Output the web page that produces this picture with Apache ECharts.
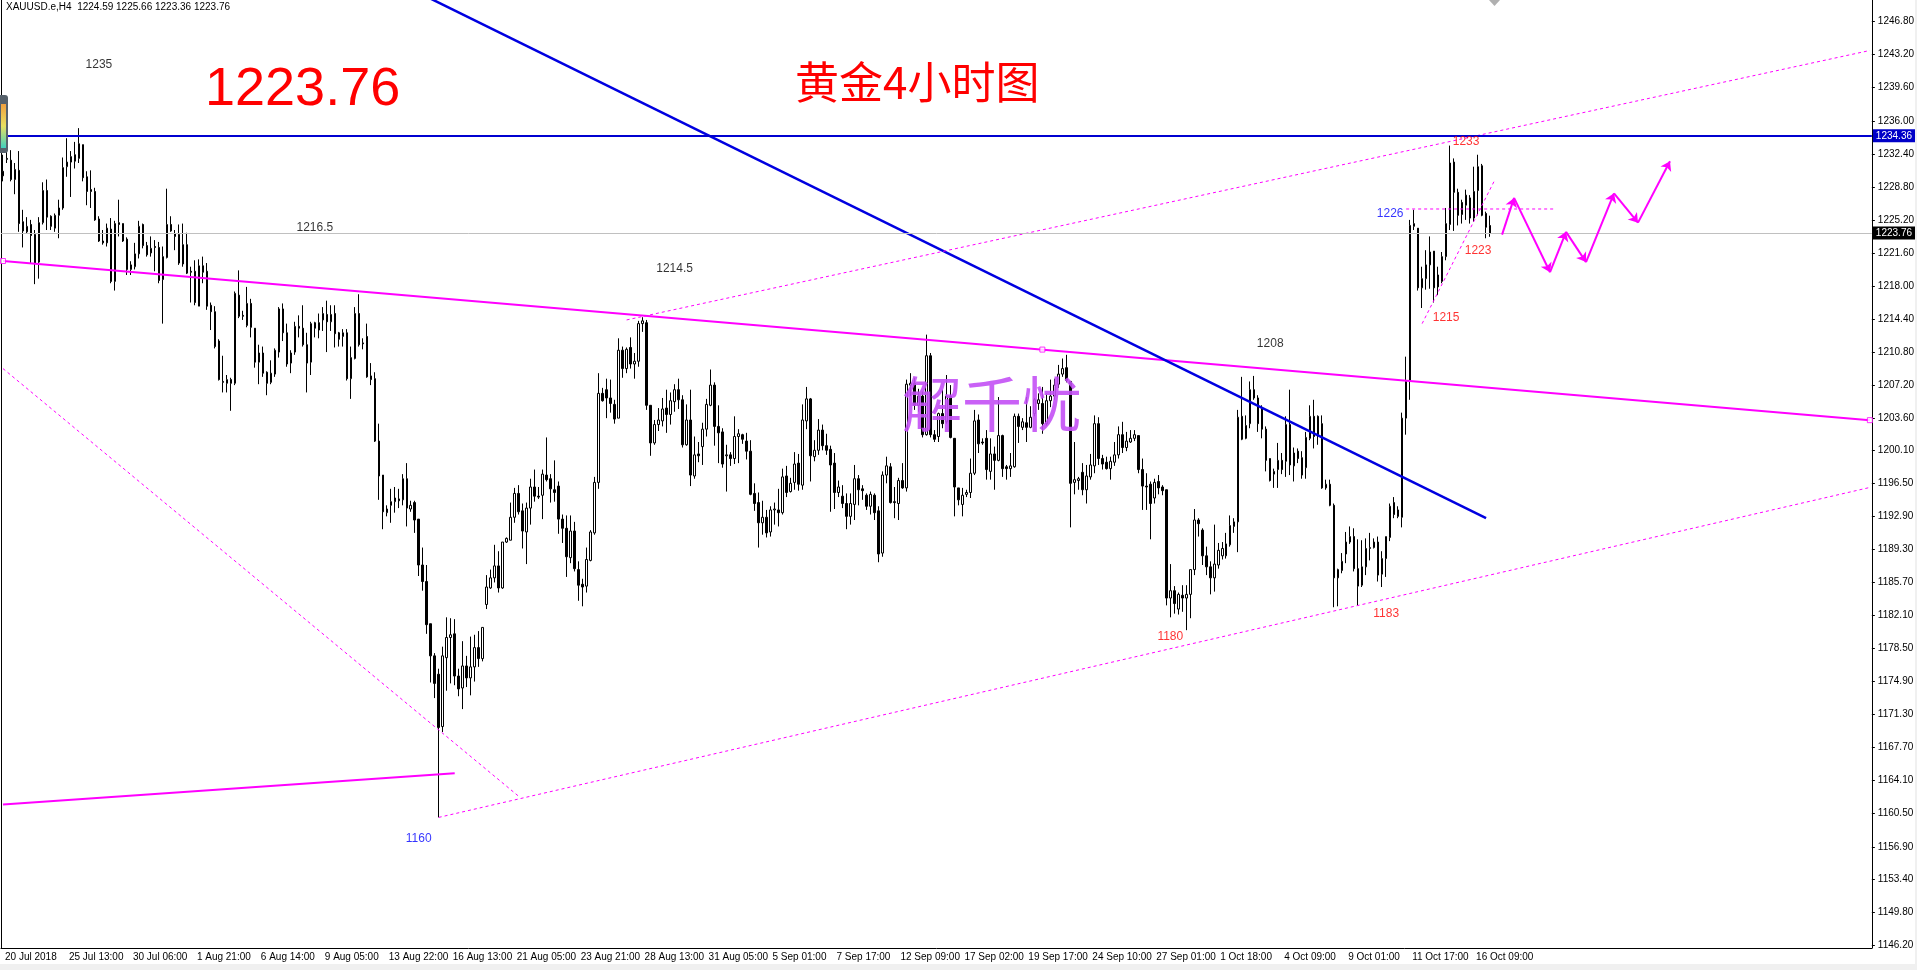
<!DOCTYPE html>
<html>
<head>
<meta charset="utf-8">
<title>XAUUSD H4</title>
<script src="https://cdn.jsdelivr.net/npm/echarts@6.0.0/dist/echarts.min.js"></script>
<style>
  html, body { margin: 0; padding: 0; background: #fff; }
  #chart { width: 1917px; height: 970px; }
</style>
</head>
<body>
<div id="chart"></div>
<script>
// x axis: one slot per H4 bar, a date label every 16 bars
const SLOTS = 468
const TICK_EVERY = 16
const tickLabels = [
  '20 Jul 2018', '25 Jul 13:00', '30 Jul 06:00', '1 Aug 21:00', '6 Aug 14:00', '9 Aug 05:00',
  '13 Aug 22:00', '16 Aug 13:00', '21 Aug 05:00', '23 Aug 21:00', '28 Aug 13:00', '31 Aug 05:00',
  '5 Sep 01:00', '7 Sep 17:00', '12 Sep 09:00', '17 Sep 02:00', '19 Sep 17:00', '24 Sep 10:00',
  '27 Sep 01:00', '1 Oct 18:00', '4 Oct 09:00', '9 Oct 01:00', '11 Oct 17:00', '16 Oct 09:00',
]

// price axis labels as MT4 prints them
const priceTicks = [
  1146.2, 1149.8, 1153.4, 1156.9, 1160.5, 1164.1, 1167.7, 1171.3, 1174.9, 1178.5,
  1182.1, 1185.7, 1189.3, 1192.9, 1196.5, 1200.1, 1203.6, 1207.2, 1210.8, 1214.4,
  1218.0, 1221.6, 1225.2, 1228.8, 1232.4, 1236.0, 1239.6, 1243.2, 1246.8,
]
const PRICE_MIN = 1145.87
const PRICE_MAX = 1249.16

// candles [open, close, low, high]
const ohlcJul = [
  [1230.5,1230.0,1229.4,1232.3],[1231.9,1231.8,1231.4,1232.7],[1231.7,1229.6,1229.4,1232.8],[1229.6,1230.7,1228.0,1231.4],
  [1230.6,1224.8,1223.9,1232.7],[1225.0,1224.0,1222.2,1226.3],[1223.9,1224.5,1223.7,1225.5],[1224.7,1223.5,1220.5,1225.2],
  [1223.6,1220.5,1218.2,1224.1],[1220.6,1224.9,1218.8,1225.5],[1224.9,1228.4,1224.7,1229.3],[1228.4,1225.5,1224.1,1229.6],
  [1225.6,1224.5,1224.1,1225.7],[1224.3,1225.7,1223.9,1225.9],[1225.7,1226.5,1223.2,1227.4],[1226.5,1230.9,1226.3,1232.0],
  [1231.0,1231.5,1229.9,1234.1],[1231.5,1232.1,1227.7,1232.7],[1232.3,1231.6,1230.8,1233.7],[1231.9,1233.5,1231.4,1235.2],
  [1233.4,1229.8,1229.4,1233.4],[1229.9,1228.3,1226.8,1230.5],[1228.5,1228.3,1226.5,1230.6],[1228.3,1225.2,1225.1,1228.7],
  [1225.3,1222.9,1222.8,1225.6],[1222.9,1222.7,1222.5,1224.1],[1222.7,1224.3,1222.3,1224.8],[1224.2,1218.5,1218.3,1225.4],
  [1218.5,1224.8,1217.5,1225.1],[1224.9,1224.7,1223.4,1227.4],[1224.8,1222.9,1222.8,1224.8],[1223.1,1219.8,1219.2,1223.3],
  [1219.8,1220.3,1219.2,1220.7],[1220.1,1221.5,1219.8,1222.7],[1221.5,1224.5,1221.0,1225.1],[1224.7,1222.4,1222.1,1224.8],
  [1222.4,1221.4,1221.2,1222.8],[1221.6,1222.1,1221.2,1223.4],[1222.3,1222.2,1219.6,1223.0],[1222.2,1218.6,1218.3,1222.8],
  [1218.7,1221.2,1213.9,1222.3],[1221.1,1224.7,1221.0,1228.6],[1224.7,1224.0,1223.9,1225.6],[1223.7,1223.4,1221.9,1224.1],
  [1223.6,1220.5,1220.3,1224.7],[1222.5,1220.4,1220.1,1224.8],[1222.5,1219.4,1219.3,1223.8],[1219.6,1219.5,1216.2,1220.1],
  [1219.6,1216.2,1215.9,1220.8],[1215.8,1220.2,1215.8,1220.9],[1220.2,1219.5,1218.3,1221.2],[1219.6,1215.8,1215.4,1220.5],
  [1215.9,1215.2,1213.2,1216.2],[1215.2,1211.4,1211.2,1215.8],
]
const ohlcEarlyAug = [
  [1212.0,1207.8,1207.7,1212.2],[1207.6,1207.5,1206.4,1210.4],[1207.4,1207.8,1206.4,1208.3],[1207.8,1207.4,1204.4,1208.0],
  [1207.4,1217.2,1207.2,1217.4],[1217.0,1214.7,1214.5,1219.7],[1214.8,1214.7,1214.3,1215.3],[1213.7,1216.1,1213.5,1217.9],
  [1216.1,1213.5,1212.4,1216.6],[1213.4,1209.7,1209.1,1213.4],[1209.7,1210.7,1207.3,1211.6],[1210.7,1208.5,1208.1,1211.4],
  [1208.6,1207.4,1206.1,1208.7],[1207.5,1208.5,1207.3,1209.9],[1208.4,1211.0,1208.1,1211.2],[1210.8,1215.5,1210.2,1215.7],
  [1215.5,1212.9,1212.0,1216.1],[1212.9,1209.5,1209.2,1213.9],[1209.6,1210.7,1208.5,1211.0],[1210.8,1213.6,1210.5,1214.1],
  [1213.6,1213.4,1212.4,1214.8],[1213.4,1211.6,1211.4,1215.9],[1211.6,1209.6,1206.4,1212.9],[1209.7,1213.9,1208.3,1214.1],
  [1214.0,1213.4,1212.4,1214.1],[1214.0,1213.2,1212.3,1215.0],[1214.3,1215.0,1213.1,1215.7],[1214.9,1214.1,1210.8,1216.4],
  [1214.1,1214.9,1213.1,1215.9],[1215.0,1212.8,1211.3,1215.9],[1212.9,1212.2,1211.4,1213.0],[1212.5,1212.9,1211.4,1213.3],
  [1212.9,1207.9,1207.7,1213.3],[1207.9,1210.2,1205.7,1211.4],[1210.1,1215.0,1210.0,1215.7],[1215.0,1211.6,1211.4,1217.1],
  [1211.8,1211.7,1211.1,1212.3],[1212.5,1208.1,1208.0,1213.9],[1208.2,1207.8,1207.2,1209.6],[1207.9,1201.1,1201.0,1208.6],
  [1201.1,1197.3,1194.7,1203.0],[1197.4,1193.4,1191.5,1197.4],[1193.3,1193.7,1192.9,1194.1],[1194.1,1194.5,1192.2,1195.9],
  [1194.5,1194.9,1193.3,1196.1],[1194.8,1194.6,1193.8,1195.9],[1194.7,1197.0,1194.1,1197.5],[1197.0,1193.8,1191.8,1198.7],
  [1193.7,1194.1,1193.4,1194.6],[1194.4,1192.5,1191.1,1194.6],[1192.6,1187.6,1186.4,1192.6],[1187.6,1185.8,1184.8,1189.5],
  [1185.8,1181.1,1180.1,1187.6],
]
const ohlcMidAug = [
  [1181.2,1177.7,1174.8,1181.2],[1177.7,1174.7,1173.1,1178.0],[1175.7,1169.9,1160.1,1176.3],[1170.0,1177.7,1169.4,1178.7],
  [1177.5,1179.7,1173.9,1181.9],[1179.7,1180.0,1174.7,1181.8],[1180.1,1175.5,1174.5,1181.7],[1175.5,1174.1,1173.3,1176.3],
  [1174.2,1176.6,1171.9,1179.3],[1176.6,1175.3,1174.3,1177.7],[1175.3,1176.5,1173.4,1179.8],[1176.5,1178.6,1174.9,1180.0],
  [1178.6,1177.4,1176.5,1180.4],[1177.4,1180.8,1177.1,1180.8],[1183.3,1185.2,1182.8,1186.5],[1185.1,1186.2,1185.0,1187.1],
  [1186.2,1187.5,1185.7,1189.8],[1187.5,1185.1,1184.6,1189.1],[1185.1,1190.1,1185.0,1190.1],[1190.1,1190.5,1190.0,1190.6],
  [1190.3,1192.8,1190.3,1194.4],[1192.8,1195.4,1192.2,1196.0],[1195.4,1193.4,1193.1,1196.3],[1193.5,1191.3,1189.4,1194.3],
  [1191.2,1193.8,1187.7,1194.4],[1193.8,1196.1,1192.0,1197.0],[1196.1,1195.1,1194.5,1198.0],[1195.1,1195.0,1194.8,1196.1],
  [1195.2,1197.5,1192.6,1198.0],[1197.4,1196.9,1196.7,1201.5],[1197.0,1195.9,1194.4,1197.5],[1195.8,1195.5,1194.5,1199.0],
  [1196.2,1192.6,1191.0,1196.7],[1192.6,1191.6,1190.0,1193.1],[1191.6,1188.5,1186.3,1193.0],[1188.4,1191.3,1187.8,1193.0],
  [1191.3,1187.2,1186.9,1192.3],[1187.1,1185.4,1183.7,1188.0],[1185.5,1185.2,1183.1,1186.1],[1185.3,1188.2,1184.6,1189.5],
  [1188.1,1191.2,1188.0,1191.4],[1191.1,1196.6,1190.9,1197.2],[1196.6,1206.3,1195.9,1208.5],[1206.3,1205.5,1205.4,1206.9],
  [1206.7,1205.8,1203.6,1207.9],[1205.8,1205.2,1204.2,1207.8],[1205.1,1203.5,1203.0,1205.6],[1203.6,1211.0,1203.6,1212.3],
  [1211.0,1209.0,1208.0,1211.4],[1209.0,1211.1,1208.5,1211.3],[1211.3,1209.5,1209.0,1212.4],[1209.5,1209.8,1207.9,1210.7],
  [1209.8,1213.9,1209.2,1214.2],[1213.9,1214.2,1213.0,1214.6],[1214.0,1205.0,1204.5,1214.3],
]
const ohlcLateAug = [
  [1205.0,1200.9,1199.5,1205.0],[1200.9,1202.9,1200.7,1203.4],[1202.9,1203.4,1202.2,1204.7],[1203.3,1204.6,1202.7,1205.8],
  [1204.7,1204.0,1202.0,1206.7],[1204.0,1205.5,1202.9,1206.4],[1205.4,1206.7,1204.3,1207.3],[1206.7,1205.6,1204.6,1207.9],
  [1205.6,1200.7,1200.4,1206.1],[1200.7,1203.4,1200.6,1205.1],[1203.4,1197.4,1196.2,1206.7],[1197.3,1199.6,1197.0,1201.6],
  [1199.7,1199.5,1198.8,1201.0],[1200.5,1202.4,1198.5,1203.1],[1202.4,1205.1,1201.6,1205.7],[1205.0,1207.2,1204.9,1208.9],
  [1207.2,1202.7,1200.6,1207.5],[1202.7,1202.0,1198.7,1205.0],[1202.1,1198.6,1198.2,1202.5],[1199.5,1199.6,1195.6,1200.7],
  [1199.6,1199.2,1198.4,1199.9],[1199.2,1201.6,1198.6,1203.8],[1201.6,1201.9,1198.7,1202.4],[1201.8,1201.3,1200.8,1201.9],
  [1201.1,1200.0,1199.1,1202.0],[1200.0,1195.3,1195.2,1201.2],[1195.4,1194.3,1193.5,1196.5],[1194.4,1192.2,1189.5,1195.5],
  [1192.2,1192.8,1190.9,1194.6],[1192.8,1191.1,1190.6,1193.6],[1191.2,1193.6,1190.7,1194.0],[1193.6,1193.7,1192.0,1194.4],
  [1193.6,1193.3,1191.8,1195.9],[1193.3,1197.2,1193.1,1198.1],[1197.3,1195.5,1195.0,1198.4],[1195.6,1196.5,1195.5,1197.1],
  [1196.6,1198.6,1195.8,1199.9],[1198.7,1196.4,1195.7,1199.7],[1196.3,1203.4,1195.8,1205.1],[1203.3,1205.7,1202.4,1207.0],
  [1205.7,1199.5,1196.7,1205.8],[1199.4,1200.1,1198.9,1201.2],[1200.1,1202.3,1199.6,1203.5],[1202.3,1200.6,1200.1,1202.9],
  [1200.6,1200.1,1199.6,1201.9],[1200.2,1198.5,1193.4,1200.6],[1198.7,1195.5,1193.7,1199.8],[1195.5,1196.1,1195.0,1196.8],
  [1195.1,1194.3,1193.8,1196.3],[1194.3,1192.9,1191.5,1195.4],
]
const ohlcSep = [
  [1192.9,1194.3,1192.0,1195.4],[1194.2,1197.0,1192.5,1198.5],[1197.0,1195.8,1194.1,1197.4],[1195.9,1195.7,1194.7,1196.3],
  [1195.2,1194.0,1193.6,1195.4],[1194.0,1195.3,1193.1,1195.6],[1195.2,1193.3,1192.5,1195.4],[1193.5,1188.8,1187.9,1194.0],
  [1188.9,1197.4,1188.5,1197.8],[1197.4,1198.4,1196.5,1199.4],[1198.3,1194.4,1194.3,1198.7],[1194.5,1194.4,1192.7,1196.1],
  [1194.3,1196.8,1192.5,1197.1],[1196.8,1196.0,1195.9,1198.7],[1196.0,1207.3,1195.6,1207.8],[1207.2,1207.4,1206.0,1208.5],
  [1207.4,1205.0,1204.5,1208.0],[1205.0,1206.0,1204.3,1206.8],[1206.0,1201.8,1201.5,1206.5],[1201.8,1210.4,1201.7,1212.7],
  [1210.4,1201.8,1201.5,1210.7],[1201.8,1201.3,1201.0,1202.3],[1201.6,1204.1,1201.0,1204.2],[1204.1,1203.0,1202.5,1206.7],
  [1203.2,1206.0,1203.0,1208.3],[1206.0,1201.5,1201.4,1207.2],[1201.4,1196.1,1192.9,1201.4],[1196.0,1194.7,1194.1,1196.0],
  [1194.2,1195.2,1192.9,1196.0],[1195.3,1195.5,1195.0,1195.8],[1195.5,1197.6,1194.9,1199.2],[1197.6,1203.3,1197.4,1204.5],
  [1203.4,1200.8,1199.8,1204.0],[1201.0,1200.9,1200.7,1201.4],[1201.4,1198.0,1196.9,1202.3],[1197.8,1199.7,1196.9,1201.4],
  [1199.7,1199.0,1195.8,1200.5],[1199.0,1201.7,1198.9,1205.9],[1201.7,1198.1,1197.2,1201.8],[1198.3,1198.1,1196.9,1198.5],
  [1198.1,1198.4,1197.2,1199.8],[1198.3,1203.8,1198.2,1204.1],[1203.8,1202.7,1200.9,1204.1],[1202.6,1203.2,1202.3,1203.6],
  [1203.1,1202.6,1201.0,1205.9],[1202.6,1203.7,1202.5,1204.9],[1204.1,1205.6,1203.8,1205.8],[1205.2,1205.6,1204.5,1206.3],
  [1205.2,1203.0,1201.9,1207.0],[1203.0,1205.5,1202.8,1206.3],[1205.5,1206.0,1204.8,1207.8],[1206.0,1207.2,1205.6,1207.9],
  [1207.3,1208.4,1206.9,1209.4],
]
const ohlcLateSep = [
  [1208.4,1209.0,1208.1,1210.1],[1209.1,1207.7,1207.5,1210.5],[1207.6,1196.5,1191.7,1207.6],[1196.6,1196.9,1195.3,1201.0],
  [1196.8,1197.0,1195.8,1197.2],[1197.7,1195.8,1195.2,1198.7],[1195.8,1197.3,1194.3,1198.5],[1197.2,1198.5,1196.9,1199.7],
  [1198.4,1203.0,1197.6,1203.9],[1203.0,1199.2,1198.5,1203.7],[1199.2,1198.6,1198.0,1199.6],[1198.8,1198.1,1198.0,1199.4],
  [1198.1,1198.9,1196.9,1199.4],[1198.8,1199.6,1198.4,1201.0],[1199.6,1201.8,1199.2,1202.7],[1201.8,1200.4,1199.8,1203.2],
  [1200.4,1201.1,1200.0,1202.1],[1201.0,1201.4,1200.9,1202.3],[1201.4,1201.8,1201.1,1202.3],[1201.7,1198.0,1197.6,1201.7],
  [1198.0,1196.2,1193.6,1199.2],[1196.2,1196.1,1193.6,1197.6],[1196.4,1194.3,1190.4,1196.7],[1194.9,1196.6,1194.3,1197.0],
  [1196.7,1196.0,1195.3,1197.4],[1196.1,1195.7,1195.2,1196.3],[1195.8,1184.0,1183.2,1195.8],[1184.0,1184.8,1181.9,1187.7],
  [1184.8,1183.4,1182.3,1185.3],[1182.8,1184.4,1182.2,1184.6],[1184.3,1184.0,1182.5,1185.4],[1184.0,1184.4,1180.5,1185.4],
  [1184.4,1187.1,1181.8,1187.1],[1187.1,1192.5,1186.5,1193.7],[1192.5,1192.1,1190.7,1192.7],[1191.4,1188.6,1187.6,1191.6],
  [1188.6,1187.4,1186.5,1189.6],[1187.4,1186.2,1184.4,1188.0],[1186.2,1187.7,1184.7,1192.0],[1187.6,1189.2,1187.2,1190.0],
  [1188.6,1189.4,1188.2,1190.1],[1188.6,1189.9,1188.3,1191.1],[1189.8,1191.9,1189.6,1193.0],[1191.8,1192.3,1191.1,1192.7],
  [1192.3,1203.7,1189.0,1204.5],[1203.8,1201.3,1201.2,1208.1],[1201.4,1202.8,1201.3,1203.9],[1203.0,1206.7,1202.5,1207.6],
  [1206.7,1205.8,1205.6,1208.2],[1205.8,1203.0,1202.1,1206.1],[1204.7,1202.4,1201.4,1205.0],[1202.4,1199.0,1197.8,1202.7],
]
const ohlcOct = [
  [1199.2,1196.8,1196.7,1199.2],[1197.5,1197.8,1196.0,1198.1],[1198.0,1199.0,1196.0,1200.9],[1199.0,1198.0,1197.5,1199.8],
  [1198.9,1202.9,1197.2,1203.8],[1202.9,1198.5,1197.4,1206.7],[1198.4,1199.8,1196.7,1200.4],[1200.0,1199.2,1198.7,1200.3],
  [1197.4,1199.3,1197.0,1200.0],[1198.2,1201.5,1197.0,1202.1],[1201.4,1203.8,1201.2,1205.0],[1203.8,1201.6,1200.3,1205.6],
  [1203.8,1201.7,1200.7,1203.9],[1203.0,1196.0,1195.9,1203.9],[1196.0,1196.4,1195.8,1196.9],[1196.4,1194.1,1194.0,1196.9],
  [1194.1,1186.2,1183.0,1194.3],[1186.2,1187.1,1183.1,1187.2],[1187.0,1188.0,1186.7,1188.9],[1188.8,1190.1,1187.8,1191.2],
  [1190.1,1190.7,1189.9,1191.8],[1190.7,1187.2,1186.9,1191.6],[1187.2,1185.3,1183.2,1190.4],[1185.4,1187.4,1185.2,1190.3],
  [1187.4,1189.4,1186.5,1190.5],[1189.4,1189.5,1188.1,1191.1],[1189.5,1190.1,1189.4,1190.5],[1190.1,1186.5,1185.8,1190.7],
  [1186.6,1188.3,1185.2,1189.1],[1188.3,1190.7,1186.3,1190.7],[1190.6,1194.0,1190.2,1194.3],[1194.4,1193.1,1192.7,1195.0],
  [1193.6,1192.9,1192.7,1194.0],[1192.8,1203.6,1191.7,1204.2],[1203.6,1207.6,1201.8,1210.3],[1207.6,1224.6,1205.6,1225.2],
  [1224.5,1224.8,1224.1,1226.3],[1224.3,1217.8,1217.5,1224.3],[1217.8,1218.8,1215.6,1220.1],[1218.8,1220.3,1217.6,1221.9],
  [1220.3,1221.7,1217.7,1223.4],[1221.8,1217.8,1216.2,1221.8],[1219.2,1217.9,1217.0,1220.1],[1218.5,1221.2,1218.3,1221.7],
  [1221.2,1224.8,1220.8,1226.5],[1224.7,1231.4,1224.1,1233.3],[1231.5,1228.2,1224.0,1231.9],[1228.2,1225.7,1224.6,1228.6],
  [1227.1,1225.8,1224.8,1227.4],[1226.8,1227.9,1225.2,1228.5],[1227.6,1225.4,1224.8,1227.9],[1225.4,1228.3,1225.0,1231.0],
  [1228.4,1231.0,1225.7,1232.3],[1231.1,1225.7,1225.6,1231.3],[1225.9,1224.4,1223.2,1226.1],[1224.59,1223.76,1223.36,1225.66],
]

// horizontal levels
const resistanceLevel = 1234.36
const lastPrice = 1223.76

// drawn objects, anchors as [bar, price]
const blueTrend = [[100, 1250.8], [371, 1192.7]]
const magentaTrend = [[0, 1220.72], [467, 1203.38]]
const magentaAnchors = [[0, 1220.72], [260, 1211.07], [467, 1203.38]]
const magentaLow = [[0, 1161.5], [113, 1164.9]]
const dotFall = [[0, 1209.0], [129, 1162.4]]
const dotChannelLow = [[109, 1160.1], [467, 1196.05]]
const dotChannelHigh = [[156, 1214.3], [467, 1243.66]]
const dot1226 = [[351, 1226.39], [388, 1226.39]]
const dot1215 = [[355, 1213.9], [373, 1229.4]]
const forecastPath = [
  [375, 1223.6], [378, 1227.6], [387, 1219.5], [391, 1223.9],
  [396, 1220.6], [403, 1228.1], [409, 1224.9], [417, 1231.6],
]
// [text, bar, price, colour]
const notes = [
  ['1235', 24, 1242.1, '#000000'],
  ['1216.5', 78, 1224.3, '#000000'],
  ['1214.5', 168, 1219.85, '#000000'],
  ['1208', 317, 1211.7, '#000000'],
  ['1160', 104, 1157.75, '#0000ff'],
  ['1180', 292, 1179.75, '#ff0000'],
  ['1183', 346, 1182.3, '#ff0000'],
  ['1215', 361, 1214.6, '#ff0000'],
  ['1226', 347, 1225.85, '#0000ff'],
  ['1223', 369, 1221.9, '#ff0000'],
  ['1233', 366, 1233.7, '#ff0000'],
]

const SANS = '"Liberation Sans", Arial, sans-serif'
const MAGENTA = '#ff00ff'

const candles = [].concat(ohlcJul, ohlcEarlyAug, ohlcMidAug, ohlcLateAug, ohlcSep, ohlcLateSep, ohlcOct)
const categories = new Array(SLOTS).fill('')
tickLabels.forEach((t, k) => { categories[k * TICK_EVERY] = t })
const hasLabel = (i, v) => v !== ''

const trend = (data, color, width, type) => ({
  type: 'line',
  data,
  symbol: 'none',
  silent: true,
  z: 4,
  lineStyle: { color, width, type },
})

const chart = echarts.init(document.getElementById('chart'), null, { renderer: 'canvas' })

chart.setOption({
  animation: false,
  backgroundColor: '#ffffff',
  grid: { left: 1, right: 45, top: 0, bottom: 22 },
  xAxis: {
    type: 'category',
    data: categories,
    boundaryGap: true,
    axisLine: { lineStyle: { color: '#000', width: 1 } },
    axisTick: { interval: hasLabel, alignWithLabel: true, length: 3, lineStyle: { color: '#000' } },
    axisLabel: {
      interval: hasLabel,
      showMinLabel: true,
      showMaxLabel: true,
      hideOverlap: false,
      align: 'left',
      margin: 4,
      padding: [0, 0, 0, 2],
      color: '#000',
      fontSize: 10,
      fontFamily: SANS,
    },
    splitLine: { show: false },
  },
  yAxis: [
    {
      type: 'value',
      position: 'right',
      min: PRICE_MIN,
      max: PRICE_MAX,
      axisLine: { show: true, lineStyle: { color: '#000', width: 1 } },
      axisTick: { show: true, length: 3, customValues: priceTicks, lineStyle: { color: '#000' } },
      axisLabel: {
        customValues: priceTicks,
        formatter: (v) => v.toFixed(2),
        margin: 6,
        color: '#000',
        fontSize: 10,
        fontFamily: SANS,
      },
      splitLine: { show: false },
    },
    {
      type: 'value',
      position: 'left',
      min: PRICE_MIN,
      max: PRICE_MAX,
      axisLine: { show: true, lineStyle: { color: '#000', width: 1 } },
      axisTick: { show: false },
      axisLabel: { show: false },
      splitLine: { show: false },
    },
  ],
  series: [
    {
      name: 'XAUUSD',
      type: 'candlestick',
      data: candles,
      barWidth: 2,
      large: false,
      silent: true,
      z: 2,
      itemStyle: {
        color: '#ffffff',
        color0: '#000000',
        borderColor: '#000000',
        borderColor0: '#000000',
        borderColorDoji: '#000000',
        borderWidth: 1,
      },
      markLine: {
        symbol: 'none',
        silent: true,
        precision: 2,
        data: [
          {
            yAxis: resistanceLevel,
            lineStyle: { color: '#0000d0', width: 2, type: 'solid' },
            label: {
              position: 'end', distance: 1, formatter: (p) => p.value.toFixed(2),
              color: '#fff', backgroundColor: '#0000c8', padding: [2, 3, 1, 3],
              fontSize: 10, fontFamily: SANS,
            },
          },
          {
            yAxis: lastPrice,
            lineStyle: { color: '#c0c0c0', width: 1, type: 'solid' },
            label: {
              position: 'end', distance: 1, formatter: (p) => p.value.toFixed(2),
              color: '#fff', backgroundColor: '#000', padding: [2, 3, 1, 3],
              fontSize: 10, fontFamily: SANS,
            },
          },
        ],
      },
    },
    trend(magentaLow, MAGENTA, 2, 'solid'),
    trend(magentaTrend, MAGENTA, 2, 'solid'),
    trend(blueTrend, '#0000e0', 2.5, 'solid'),
    trend(dotFall, MAGENTA, 1, [3, 3]),
    trend(dotChannelLow, MAGENTA, 1, [3, 3]),
    trend(dotChannelHigh, MAGENTA, 1, [3, 3]),
    trend(dot1226, MAGENTA, 1, [3, 3]),
    trend(dot1215, MAGENTA, 1, [3, 3]),
    {
      type: 'scatter',
      data: magentaAnchors,
      symbol: 'rect',
      symbolSize: 5,
      silent: true,
      z: 5,
      itemStyle: { color: '#ffffff', borderColor: MAGENTA, borderWidth: 1 },
    },
    {
      type: 'lines',
      coordinateSystem: 'cartesian2d',
      silent: true,
      z: 5,
      symbol: ['none', 'arrow'],
      symbolSize: 9,
      lineStyle: { color: MAGENTA, width: 2, opacity: 1 },
      data: forecastPath.slice(1).map((p, i) => ({ coords: [forecastPath[i], p] })),
    },
    {
      type: 'scatter',
      silent: true,
      z: 6,
      symbolSize: 1,
      itemStyle: { color: 'rgba(0,0,0,0)' },
      data: notes.map(([text, bar, price, color]) => ({
        value: [bar, price],
        name: text,
        label: { color },
      })),
      label: {
        show: true,
        position: 'inside',
        formatter: (p) => p.name,
        fontSize: 12,
        fontFamily: SANS,
      },
    },
  ],
  graphic: [
    {
      type: 'text', left: 6, top: 2, z: 10,
      style: { text: 'XAUUSD.e,H4  1224.59 1225.66 1223.36 1223.76', fill: '#000', font: '10px ' + SANS },
    },
    {
      type: 'text', left: 205, top: 63, z: 10,
      style: { text: '1223.76', fill: '#ff0000', font: '54px "Comic Sans MS", ' + SANS },
    },
    {
      type: 'text', left: 795, top: 60, z: 10,
      style: { text: '黄金4小时图', fill: '#ff0000', font: '44px "Noto Sans CJK SC", sans-serif' },
    },
    {
      type: 'text', left: 902, top: 374, z: 10,
      style: { text: '解千忧', fill: 'rgba(195, 80, 245, 0.9)', font: '60px "Noto Sans CJK SC", sans-serif' },
    },
    // collapsed trading panel at the left edge
    {
      type: 'rect', z: 10, shape: { x: 0, y: 95, width: 8, height: 58, r: [0, 3, 3, 0] },
      style: { fill: '#56616b' },
    },
    {
      type: 'rect', z: 11, shape: { x: 1, y: 104, width: 5, height: 44 },
      style: {
        fill: new echarts.graphic.LinearGradient(0, 0, 0, 1, [
          { offset: 0, color: '#f0a040' }, { offset: 0.5, color: '#e8e060' }, { offset: 1, color: '#40d0c0' },
        ]),
      },
    },
    // chart-shift marker at the top
    {
      type: 'polygon', z: 10, shape: { points: [[1489, 0], [1500, 0], [1494.5, 6]] },
      style: { fill: '#b0b0b0' },
    },
    // window frame
    { type: 'rect', z: 0, shape: { x: 0, y: 964, width: 1917, height: 6 }, style: { fill: '#f0f0f0' } },
    { type: 'rect', z: 0, shape: { x: 1915, y: 0, width: 2, height: 970 }, style: { fill: '#f0f0f0' } },
  ],
})
</script>
</body>
</html>
